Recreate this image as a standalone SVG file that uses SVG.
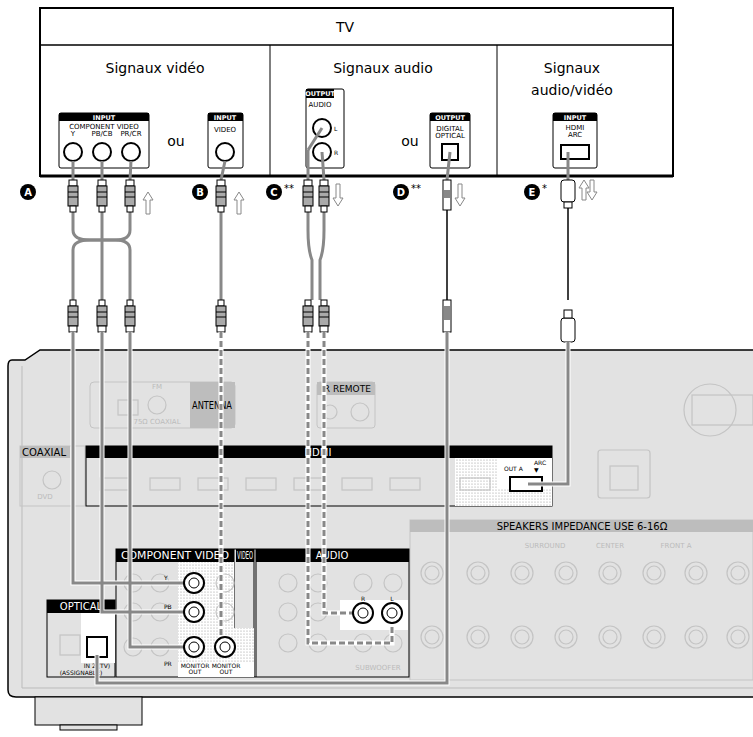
<svg xmlns="http://www.w3.org/2000/svg" width="753" height="737" viewBox="0 0 753 737">
<style>
text{font-family:"DejaVu Sans","Liberation Sans",sans-serif;fill:#000}
.lbl{font-size:14px;text-anchor:middle}
.sm{font-size:7px;text-anchor:middle}
.hd{font-size:6.5px;font-weight:bold;fill:#fff;text-anchor:middle}
.hd2{font-size:10px;fill:#fff;text-anchor:middle}
.pnl{fill:#fff;stroke:#000;stroke-width:1}
.jack{fill:#fff;stroke:#000;stroke-width:2}
.cab{fill:none;stroke:#fff;stroke-width:5}
.cabi{fill:none;stroke:#888;stroke-width:3}
.dash{fill:none;stroke:#888;stroke-width:3;stroke-dasharray:6 3}
.ghost{fill:none;stroke:#c4c4c4;stroke-width:1.2}
.gt{font-size:7px;fill:#bbb;text-anchor:middle}
.badge{fill:#000}
.bt{font-size:10px;font-weight:bold;fill:#fff;text-anchor:middle}
.arr{fill:#fff;stroke:#888;stroke-width:1}
</style>
<defs>
<pattern id="dots" width="3" height="3" patternUnits="userSpaceOnUse"><rect width="3" height="3" fill="#fff"/><circle cx="1" cy="1" r="0.6" fill="#999"/></pattern>
<g id="rca"><rect x="-4" y="0" width="8" height="6" fill="#fff" stroke="#000"/><rect x="-5" y="6" width="10" height="20" fill="#aaa" stroke="#000"/><line x1="-5" y1="12" x2="5" y2="12" stroke="#000"/><line x1="-5" y1="17" x2="5" y2="17" stroke="#000"/><rect x="-3" y="26" width="6" height="6" fill="#fff" stroke="#000"/></g>
<g id="rcau"><rect x="-3" y="0" width="6" height="6" fill="#fff" stroke="#000"/><rect x="-5" y="6" width="10" height="20" fill="#aaa" stroke="#000"/><line x1="-5" y1="12" x2="5" y2="12" stroke="#000"/><line x1="-5" y1="17" x2="5" y2="17" stroke="#000"/><rect x="-4" y="26" width="8" height="6" fill="#fff" stroke="#000"/></g>
<g id="ring"><circle r="11" fill="none" stroke="#c4c4c4" stroke-width="1.2"/><circle r="7" fill="none" stroke="#c4c4c4" stroke-width="1.2"/></g>
</defs>

<g id="receiver">
<path d="M753 350 H40 L25 360 H12 Q8 360 8 366 V690 Q8 697 16 697 H753" fill="#e2e2e2" stroke="#000" stroke-width="1.5"/>
<path d="M22 366 V688 H753" fill="none" stroke="#bbb"/>
<rect x="35" y="697" width="107" height="28" fill="#e2e2e2" stroke="#000"/>
<rect x="60" y="725" width="57" height="5" fill="#e2e2e2" stroke="#000"/>
<rect x="90" y="382" width="145" height="46" rx="4" fill="none" stroke="#c4c4c4"/>
<rect x="190" y="382" width="45" height="46" fill="#bdbdbd"/>
<text x="212" y="409" font-size="11" fill="#fff" text-anchor="middle" textLength="40" lengthAdjust="spacingAndGlyphs">ANTENNA</text>
<circle cx="157" cy="405" r="9" class="ghost"/><rect x="118" y="400" width="20" height="15" class="ghost"/>
<text x="157" y="389" class="gt">FM</text><text x="157" y="424" class="gt">75Ω COAXIAL</text>
<rect x="317" y="382" width="58" height="46" rx="3" fill="none" stroke="#c4c4c4"/>
<rect x="317" y="382" width="58" height="13" fill="#bdbdbd"/>
<text x="346" y="392" font-size="9" fill="#fff" text-anchor="middle">IR REMOTE</text>
<circle cx="330" cy="412" r="7" class="ghost"/><circle cx="360" cy="412" r="9" class="ghost"/>
<circle cx="710" cy="410" r="26" class="ghost"/><rect x="692" y="395" width="61" height="30" class="ghost"/>
<rect x="20" y="446" width="65" height="60" fill="none" stroke="#c4c4c4"/>
<rect x="20" y="446" width="50" height="12" fill="#bdbdbd"/>
<text x="44" y="456" font-size="10" fill="#fff" text-anchor="middle" textLength="44" lengthAdjust="spacingAndGlyphs">COAXIAL</text>
<circle cx="52" cy="480" r="9" class="ghost"/><text x="45" y="499" class="gt">DVD</text>
<rect x="86" y="446" width="466" height="60" fill="#e2e2e2" stroke="#000"/>
<rect x="86" y="446" width="466" height="12" fill="#000"/>
<text x="318" y="456" class="hd2">HDMI</text>
<rect x="455" y="458" width="97" height="48" fill="url(#dots)"/>
<rect x="498" y="458" width="54" height="30" fill="#fff"/>
<g class="ghost"><rect x="100" y="478" width="30" height="12"/><rect x="150" y="478" width="30" height="12"/><rect x="198" y="478" width="30" height="12"/><rect x="246" y="478" width="30" height="12"/><rect x="294" y="478" width="30" height="12"/><rect x="342" y="478" width="30" height="12"/><rect x="390" y="478" width="30" height="12"/><rect x="460" y="478" width="30" height="12"/></g>
<rect x="510" y="477" width="32" height="14" fill="#fff" stroke="#000" stroke-width="2"/>
<text x="504" y="471" font-size="6">OUT A</text><text x="534" y="465" font-size="6">ARC</text><text x="534" y="472" font-size="6">▼</text>
<rect x="598" y="450" width="52" height="48" rx="3" class="ghost"/><rect x="610" y="466" width="28" height="24" class="ghost"/>
<rect x="410" y="520" width="343" height="160" fill="none" stroke="#c4c4c4"/>
<rect x="410" y="520" width="343" height="12" fill="#bdbdbd"/>
<text x="582" y="530" font-size="10" fill="#fff" text-anchor="middle">SPEAKERS  IMPEDANCE USE 6-16Ω</text>
<g><use href="#ring" x="432" y="573"/><use href="#ring" x="478" y="573"/><use href="#ring" x="522" y="573"/><use href="#ring" x="566" y="573"/><use href="#ring" x="610" y="573"/><use href="#ring" x="654" y="573"/><use href="#ring" x="696" y="573"/><use href="#ring" x="738" y="573"/>
<use href="#ring" x="432" y="637"/><use href="#ring" x="478" y="637"/><use href="#ring" x="522" y="637"/><use href="#ring" x="566" y="637"/><use href="#ring" x="610" y="637"/><use href="#ring" x="654" y="637"/><use href="#ring" x="696" y="637"/><use href="#ring" x="738" y="637"/></g>
<text x="545" y="548" class="gt">SURROUND</text><text x="610" y="548" class="gt">CENTER</text><text x="676" y="548" class="gt">FRONT A</text>
<rect x="47" y="600" width="68" height="77" fill="#e2e2e2" stroke="#000"/>
<rect x="47" y="600" width="68" height="13" fill="#000"/>
<text x="81" y="610" class="hd2">OPTICAL</text>
<rect x="81" y="613" width="34" height="50" fill="#fff"/>
<rect x="60" y="635" width="20" height="20" class="ghost"/>
<rect x="87" y="637" width="20" height="20" fill="#fff" stroke="#000" stroke-width="2"/>
<text x="97" y="668" font-size="6" text-anchor="middle">IN 2 (TV)</text>
<text x="81" y="675" font-size="6" text-anchor="middle">(ASSIGNABLE)</text>
<rect x="116" y="549" width="293" height="128" fill="#e2e2e2" stroke="#000"/>
<rect x="116" y="549" width="118" height="13" fill="#000"/>
<text x="175" y="559" class="hd2" textLength="108" lengthAdjust="spacingAndGlyphs">COMPONENT VIDEO</text>
<rect x="236" y="549" width="18" height="13" fill="#000"/>
<text x="245" y="559" class="hd2" textLength="16" lengthAdjust="spacingAndGlyphs">VIDEO</text>
<rect x="256" y="549" width="153" height="13" fill="#000"/>
<text x="332" y="559" class="hd2">AUDIO</text>
<line x1="234" y1="549" x2="234" y2="677" stroke="#000"/>
<line x1="254" y1="549" x2="254" y2="677" stroke="#000"/>
<line x1="256" y1="549" x2="256" y2="677" stroke="#000"/>
<rect x="178" y="562" width="56" height="115" fill="url(#dots)"/>
<rect x="178" y="662" width="56" height="15" fill="#fff"/>
<rect x="210" y="628" width="44" height="49" fill="url(#dots)"/>
<rect x="210" y="662" width="44" height="15" fill="#fff"/>
<rect x="340" y="600" width="68" height="30" fill="#fff"/>
<g class="ghost"><circle cx="133" cy="583" r="9"/><circle cx="160" cy="583" r="9"/><circle cx="133" cy="612" r="9"/><circle cx="160" cy="612" r="9"/><circle cx="133" cy="647" r="9"/><circle cx="160" cy="647" r="9"/><circle cx="225" cy="583" r="9"/><circle cx="225" cy="612" r="9"/><circle cx="288" cy="583" r="9"/><circle cx="318" cy="583" r="9"/><circle cx="288" cy="612" r="9"/><circle cx="318" cy="612" r="9"/><circle cx="288" cy="643" r="9"/><circle cx="318" cy="643" r="9"/><circle cx="363" cy="583" r="9"/><circle cx="393" cy="583" r="9"/><circle cx="363" cy="643" r="9"/><circle cx="393" cy="643" r="9"/></g>
<text x="164" y="580" font-size="6">Y</text><text x="164" y="609" font-size="6">PB</text><text x="164" y="666" font-size="6">PR</text>
<text x="195" y="668" font-size="6" text-anchor="middle">MONITOR</text><text x="195" y="674" font-size="6" text-anchor="middle">OUT</text>
<text x="226" y="668" font-size="6" text-anchor="middle">MONITOR</text><text x="226" y="674" font-size="6" text-anchor="middle">OUT</text>
<text x="363" y="601" font-size="6" text-anchor="middle">R</text><text x="392" y="601" font-size="6" text-anchor="middle">L</text>
<text x="378" y="670" class="gt">SUBWOOFER</text>
</g>

<g id="tv">
<rect x="40" y="8" width="633" height="168" fill="#fff" stroke="#000" stroke-width="2"/>
<line x1="40" y1="45" x2="673" y2="45" stroke="#000" stroke-width="1.5"/>
<line x1="270" y1="45" x2="270" y2="176" stroke="#000"/>
<line x1="497" y1="45" x2="497" y2="176" stroke="#000"/>
<line x1="40" y1="176" x2="673" y2="176" stroke="#000" stroke-width="3"/>
<text x="345" y="32" class="lbl" font-size="15">TV</text>
<text x="155" y="73" class="lbl">Signaux vidéo</text>
<text x="383" y="73" class="lbl">Signaux audio</text>
<text x="572" y="73" class="lbl">Signaux</text>
<text x="572" y="95" class="lbl">audio/vidéo</text>
<text x="176" y="146" class="lbl">ou</text>
<text x="410" y="146" class="lbl">ou</text>
</g>
<g id="tv-component"><rect x="59" y="113" width="90" height="55" rx="2" class="pnl"/><rect x="59" y="113" width="90" height="8" fill="#000"/><text x="104" y="119.5" class="hd">INPUT</text>
<text x="104" y="129" class="sm">COMPONENT VIDEO</text><text x="73" y="136" class="sm">Y</text><text x="102" y="136" class="sm">PB/CB</text><text x="131" y="136" class="sm">PR/CR</text>
<circle cx="73" cy="152" r="9" class="jack"/><circle cx="102" cy="152" r="9" class="jack"/><circle cx="131" cy="152" r="9" class="jack"/></g>
<g id="tv-video"><rect x="208" y="113" width="35" height="55" rx="2" class="pnl"/><rect x="208" y="113" width="35" height="8" fill="#000"/><text x="225" y="119.5" class="hd">INPUT</text><text x="225" y="132" class="sm">VIDEO</text><circle cx="225" cy="152" r="9" class="jack"/></g>
<g id="tv-audio"><rect x="306" y="89" width="38" height="79" rx="2" class="pnl"/><rect x="306" y="89" width="28" height="9" fill="#000"/><text x="320" y="96" class="hd">OUTPUT</text><text x="320" y="107" class="sm">AUDIO</text><circle cx="322" cy="128" r="9" class="jack"/><circle cx="322" cy="152" r="9" class="jack"/><text x="334" y="131" font-size="6">L</text><text x="334" y="155" font-size="6">R</text></g>
<g id="tv-optical"><rect x="430" y="113" width="40" height="55" rx="2" class="pnl"/><rect x="430" y="113" width="40" height="8" fill="#000"/><text x="450" y="119.5" class="hd">OUTPUT</text><text x="450" y="131" class="sm">DIGITAL</text><text x="450" y="138" class="sm">OPTICAL</text><rect x="442" y="144" width="16" height="16" fill="#fff" stroke="#000" stroke-width="2"/></g>
<g id="tv-hdmi"><rect x="553" y="113" width="44" height="55" rx="2" class="pnl"/><rect x="553" y="113" width="44" height="8" fill="#000"/><text x="575" y="119.5" class="hd">INPUT</text><text x="575" y="130" class="sm">HDMI</text><text x="575" y="137" class="sm">ARC</text><rect x="561" y="145" width="28" height="14" fill="#fff" stroke="#000" stroke-width="2"/></g>

<g id="connectors">
<g class="cab"><path d="M73 212 V230 Q73 240 90 240 H115 Q130 240 130 250 V300"/><path d="M102 212 V300"/><path d="M130 212 V230 Q130 240 115 240 H90 Q73 240 73 250 V300"/><path d="M221 212 V300"/><path d="M308 212 V230 Q308 250 312 260 V300"/><path d="M324 212 V230 Q324 250 320 260 V300"/><path d="M447 210 V300"/><path d="M568 208 V300"/></g>
<g class="cabi"><path d="M73 212 V230 Q73 240 90 240 H115 Q130 240 130 250 V300"/><path d="M102 212 V300"/><path d="M130 212 V230 Q130 240 115 240 H90 Q73 240 73 250 V300"/><path d="M221 212 V300"/><path d="M308 212 V230 Q308 250 312 260 V300"/><path d="M324 212 V230 Q324 250 320 260 V300"/></g>
<g fill="none" stroke="#000" stroke-width="1.5"><path d="M447 210 V300"/><path d="M568 208 V300"/></g>
<g stroke="#888" stroke-width="3"><line x1="73" y1="161" x2="73" y2="180"/><line x1="102" y1="161" x2="102" y2="180"/><line x1="131" y1="161" x2="130" y2="180"/><line x1="225" y1="161" x2="221" y2="180"/><line x1="322" y1="128" x2="308" y2="150"/><line x1="308" y1="150" x2="308" y2="180"/><line x1="322" y1="152" x2="324" y2="180"/><line x1="450" y1="152" x2="447" y2="180"/><line x1="568" y1="152" x2="568" y2="180"/></g>
<use href="#rca" x="73" y="180"/><use href="#rca" x="102" y="180"/><use href="#rca" x="130" y="180"/><use href="#rca" x="221" y="180"/><use href="#rca" x="308" y="180"/><use href="#rca" x="324" y="180"/>
<rect x="443" y="180" width="8" height="30" fill="#fff" stroke="#000"/><rect x="444" y="190" width="6" height="8" fill="#888"/>
<rect x="561" y="180" width="14" height="22" rx="3" fill="#fff" stroke="#000"/><rect x="564" y="202" width="8" height="6" fill="#fff" stroke="#000"/>
<use href="#rcau" x="73" y="300"/><use href="#rcau" x="102" y="300"/><use href="#rcau" x="130" y="300"/><use href="#rcau" x="221" y="300"/><use href="#rcau" x="308" y="300"/><use href="#rcau" x="324" y="300"/>
<rect x="443" y="300" width="8" height="32" fill="#fff" stroke="#000"/><rect x="444" y="306" width="6" height="14" fill="#888"/>
<rect x="561" y="318" width="14" height="24" rx="3" fill="#fff" stroke="#000"/><rect x="564" y="310" width="8" height="8" fill="#fff" stroke="#000"/>
<g class="cab"><path d="M73 332 V583 H190"/><path d="M102 332 V612 H190"/><path d="M130 332 V647 H190"/><path d="M447 332 V683 H97 V655"/><path d="M568 342 V484 H528"/></g>
<g class="cabi"><path d="M73 332 V583 H190"/><path d="M102 332 V612 H190"/><path d="M130 332 V647 H190"/><path d="M447 332 V683 H97 V655"/><path d="M568 342 V484 H528"/></g>
<g class="cab"><path d="M221 332 V647"/><path d="M324 332 V613 H360"/><path d="M308 332 V643 H392 V616"/></g>
<g class="dash"><path d="M221 332 V647"/><path d="M324 332 V613 H360"/><path d="M308 332 V643 H392 V616"/></g>
<circle cx="194" cy="583" r="10" class="jack"/><circle cx="194" cy="583" r="5" fill="#fff" stroke="#000"/>
<circle cx="194" cy="612" r="10" class="jack"/><circle cx="194" cy="612" r="5" fill="#fff" stroke="#000"/>
<circle cx="194" cy="647" r="10" class="jack"/><circle cx="194" cy="647" r="5" fill="#fff" stroke="#000"/>
<circle cx="225" cy="647" r="10" class="jack"/><circle cx="225" cy="647" r="5" fill="#fff" stroke="#000"/>
<circle cx="363" cy="613" r="10" class="jack"/><circle cx="363" cy="613" r="5" fill="#fff" stroke="#000"/>
<circle cx="392" cy="613" r="10" class="jack"/><circle cx="392" cy="613" r="5" fill="#fff" stroke="#000"/>
<path class="arr" d="M146 214 V200 H143 L148 192 L153 200 H150 V214 Z"/>
<path class="arr" d="M237 214 V200 H234 L239 192 L244 200 H241 V214 Z"/>
<path class="arr" d="M336 184 V198 H333 L338 206 L343 198 H340 V184 Z"/>
<path class="arr" d="M458 184 V198 H455 L460 206 L465 198 H462 V184 Z"/>
<path class="arr" d="M582 200 V188 H579 L584 180 L589 188 H586 V200 Z"/>
<path class="arr" d="M590 180 V192 H587 L592 200 L597 192 H594 V180 Z"/>
</g>
<g id="badges">
<circle cx="28" cy="192" r="8" class="badge"/><text x="28" y="196" class="bt">A</text>
<circle cx="200" cy="192" r="8" class="badge"/><text x="200" y="196" class="bt">B</text>
<circle cx="274" cy="192" r="8" class="badge"/><text x="274" y="196" class="bt">C</text><text x="284" y="192" font-size="10">**</text>
<circle cx="401" cy="192" r="8" class="badge"/><text x="401" y="196" class="bt">D</text><text x="411" y="192" font-size="10">**</text>
<circle cx="532" cy="192" r="8" class="badge"/><text x="532" y="196" class="bt">E</text><text x="542" y="192" font-size="10">*</text>
</g>
</svg>
